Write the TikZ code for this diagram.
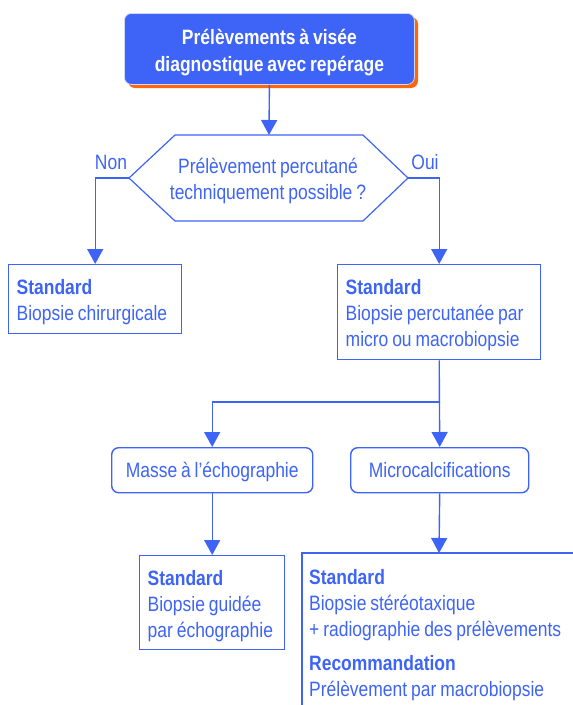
\documentclass[tikz,border=0pt]{standalone}
\usepackage{fontspec}
\setmainfont{Liberation Sans}[FakeStretch=0.84, WordSpace=0.8]
\usetikzlibrary{arrows.meta}
\definecolor{fcblue}{RGB}{61,100,246}
\definecolor{fcorange}{RGB}{255,104,10}
% struts fixing the padding above the first and below the last line of a box
\newcommand\fcTop[1][30pt]{\rule{0pt}{#1}}
\newcommand\fcBot[1][13pt]{\rule[-#1]{0pt}{#1}}
\tikzset{
  every node/.style={font=\fontsize{20.8}{26}\selectfont, text=fcblue},
  line/.style={draw=fcblue, line width=1.4pt},
  arr/.style={line, -{Triangle[width=16pt,length=15pt]}},
  stdbox/.style={draw=fcblue, line width=1.4pt, align=flush left, anchor=north west,
    inner xsep=8pt, inner ysep=0pt},
  roundbox/.style={draw=fcblue, line width=1.4pt, rounded corners=7pt,
    anchor=north west, inner sep=0pt, text height=15pt, text depth=0pt},
  lab/.style={inner sep=0pt}
}
\begin{document}
\begin{tikzpicture}[x=1pt,y=-1pt]
\useasboundingbox (0,0) rectangle (573,705);
\clip (0,0) rectangle (573,705);

% title with offset shadow
\fill[fcorange, rounded corners=7pt] (128,17) rectangle (418,88);
\node[anchor=north west, minimum width=290pt, minimum height=71pt, inner sep=0pt,
      fill=fcblue, draw=white!75!fcblue, line width=0.8pt, rounded corners=7pt]
  (title) at (124,13) {};
\node[align=center, text=white, font=\bfseries\fontsize{20.8}{26.5}\selectfont]
  at ([yshift=-3.5pt]title.center) {Prélèvements à visée\\diagnostique avec repérage};

% decision hexagon
\coordinate (qT) at (269,135);
\coordinate (qL) at (129,178);
\coordinate (qR) at (408,178);
\draw[line, line width=1.2pt] (175,135) -- (363,135) -- (qR) -- (363,221) -- (175,221) -- (qL) -- cycle;
\node[align=center] (q) at (268,181)
  {Prélèvement percutané\\techniquement possible ?};
\node[lab] (non) at (111,162.5) {Non};
\node[lab] (oui) at (425,162.5) {Oui};

% first level outcomes
\node[stdbox, minimum width=173pt, text width=157pt] (b1) at (8,264)
  {\fcTop\textbf{Standard}\\Biopsie chirurgicale\fcBot};
\node[stdbox, minimum width=203pt, text width=187pt] (b2) at (337,264)
  {\fcTop\textbf{Standard}\\Biopsie percutanée par\\micro ou macrobiopsie\fcBot};

% lesion types
\node[roundbox, minimum width=201pt, minimum height=45pt] (m1) at (111,447) {Masse à l’échographie};
\node[roundbox, minimum width=178pt, minimum height=45pt] (m2) at (350,447) {Microcalcifications};

% second level outcomes
\node[stdbox, minimum width=145pt, text width=129pt] (c1) at (139,555)
  {\fcTop\textbf{Standard}\\Biopsie guidée\\par échographie\fcBot[12pt]};
\draw[line] (590,553) -- (302,553) -- (302,720);
\coordinate (c2top) at (439,553);
\node[anchor=north west, align=left, inner sep=0pt] (c2) at (309,553)
  {\fcTop[31pt]\textbf{Standard}\\Biopsie stéréotaxique\\+ radiographie des prélèvements\\[8pt]
   \textbf{Recommandation}\\Prélèvement par macrobiopsie};

% connectors
\coordinate (fork) at (b2.south |- 0,402);
\draw[arr] (title.south) -- (qT);
\draw[arr] (qL) -| (b1.north);
\draw[arr] (qR) -| (b2.north);
\draw[arr] (b2.south) -- (m2.north);
\draw[arr] (fork) -| (m1.north);
\draw[arr] (m1.south) -- (c1.north);
\draw[arr] (m2.south) -- (c2top);
\end{tikzpicture}
\end{document}
